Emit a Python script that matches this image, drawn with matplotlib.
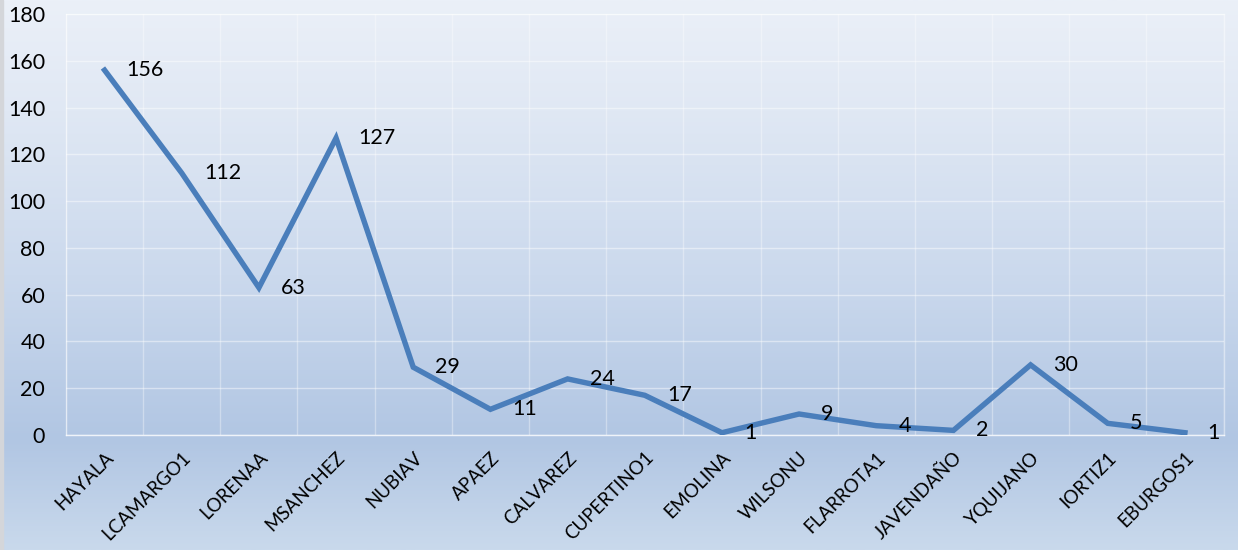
import matplotlib.pyplot as plt
import numpy as np
from matplotlib.colors import LinearSegmentedColormap

usuarios = ["HAYALA", "LCAMARGO1", "LORENAA", "MSANCHEZ", "NUBIAV", "APAEZ",
            "CALVAREZ", "CUPERTINO1", "EMOLINA", "WILSONU", "FLARROTA1",
            "JAVENDAÑO", "YQUIJANO", "IORTIZ1", "EBURGOS1"]
cantidad = [156, 112, 63, 127, 29, 11, 24, 17, 1, 9, 4, 2, 30, 5, 1]
y_ticks = list(range(0, 181, 20))

plt.rcParams['font.family'] = ['Lato', 'DejaVu Sans']

fig = plt.figure(figsize=(12.38, 5.5), dpi=100)

# fondo degradado estilo Excel
bg = fig.add_axes([0, 0, 1, 1], zorder=0)
grad = LinearSegmentedColormap.from_list(
    "fondo", [(0.0, "#ebf0f8"), (0.2, "#e0e8f4"), (0.5, "#cbd9ed"),
              (0.8, "#b1c6e3"), (1.0, "#c9d9ec")])
bg.imshow(np.linspace(0, 1, 256).reshape(-1, 1), aspect="auto", cmap=grad,
          extent=[0, 1, 1, 0])
bg.axvspan(0, 0.0025, color="#d4d6da")
bg.set_xlim(0, 1)
bg.set_ylim(1, 0)
bg.axis("off")

ax = fig.add_axes([0.0533, 0.209, 0.935, 0.7655], zorder=1)
ax.patch.set_alpha(0)

x = np.arange(len(usuarios))
ax.plot(x, cantidad, color="#4a7ebb", lw=3.9, solid_joinstyle="miter", zorder=3)

for xi, v in zip(x, cantidad):
    ax.annotate(str(v), (xi, v), xytext=(16, 0), textcoords="offset points",
                ha="left", va="center", fontsize=15.5, color="black")

ax.set_xlim(-0.5, len(usuarios) - 0.5)
ax.set_ylim(0, 180)
ax.set_yticks(y_ticks)
ax.set_yticklabels([str(t) for t in y_ticks], fontsize=15.5)
ax.set_xticks(x)
ax.set_xticklabels(usuarios, fontsize=13.5, rotation=45, ha="right",
                   rotation_mode="anchor")
ax.set_xticks(np.arange(-0.5, len(usuarios), 1), minor=True)

ax.tick_params(axis="both", length=0)
ax.tick_params(axis="x", which="minor", length=0)
ax.tick_params(axis="x", which="major", pad=10)
ax.tick_params(axis="y", pad=15)

ax.grid(axis="y", which="major", color="white", alpha=0.45, lw=1)
ax.grid(axis="x", which="minor", color="white", alpha=0.35, lw=1)
for s in ax.spines.values():
    s.set_color("white")
    s.set_alpha(0.45)
    s.set_linewidth(1)
ax.spines["bottom"].set_alpha(0.8)

fig.savefig("out.png", dpi=100)
